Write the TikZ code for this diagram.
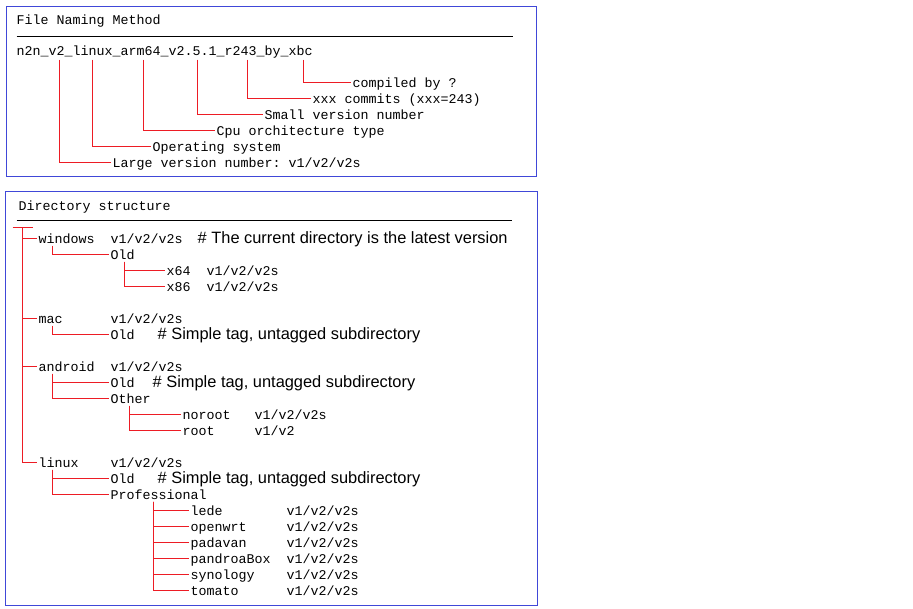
\documentclass[tikz,border=0pt]{standalone}
\usepackage{fontspec}
\setmainfont{Liberation Sans}
\setmonofont{Liberation Mono}
\definecolor{linered}{RGB}{237,28,36}
\definecolor{boxblue}{RGB}{64,72,216}
\begin{document}
\begin{tikzpicture}[x=1pt,y=-1pt]
		\tikzset{vertex/.style = {anchor=west, inner xsep=2pt, inner ysep=0pt, text height=11pt, text depth=1pt, font=\fontsize{13.33}{16}\selectfont\ttfamily}}
		\tikzset{note/.style = {anchor=west, inner xsep=2pt, inner ysep=0pt, text height=11pt, text depth=1pt, font=\fontsize{16.4}{18}\selectfont}}
		\tikzset{edge/.style = {draw=linered, line width=1pt}}
		\tikzset{frame/.style = {draw=boxblue, line width=1pt}}
		
		\useasboundingbox (0,0) rectangle (913,609);
		\begin{scope}[shift={(0.5,0.5)}]
		\draw[frame] (6,6) rectangle (536,176);
		\draw[frame] (5,191) rectangle (537,605);
		
		\node[vertex]  (1) at (  14,  19) {File Naming Method};
		\draw[line width=1pt] (16,36) -- (512,36);
		\node[vertex]  (2) at (  14,  50) {n2n\_v2\_linux\_arm64\_v2.5.1\_r243\_by\_xbc};
		\node[vertex]  (3) at ( 350,  82) {compiled by ?};
		\node[vertex]  (4) at ( 310,  98) {xxx commits (xxx=243)};
		\node[vertex]  (5) at ( 262, 114) {Small version number};
		\node[vertex]  (6) at ( 214, 130) {Cpu orchitecture type};
		\node[vertex]  (7) at ( 150, 146) {Operating system};
		\node[vertex]  (8) at ( 110, 162) {Large version number: v1/v2/v2s};
		
		\draw[edge] ([shift={( 45,3)}]2.south west) |- (8.west);
		\draw[edge] ([shift={( 78,3)}]2.south west) |- (7.west);
		\draw[edge] ([shift={(129,3)}]2.south west) |- (6.west);
		\draw[edge] ([shift={(183,3)}]2.south west) |- (5.west);
		\draw[edge] ([shift={(233,3)}]2.south west) |- (4.west);
		\draw[edge] ([shift={(289,3)}]2.south west) |- (3.west);
		
		\node[vertex] (10) at (  16, 205) {Directory structure};
		\draw[line width=1pt] (16,220) -- (511,220);
		
		\node[vertex] (11) at (  36, 238) {windows};
		\node[vertex] (12) at ( 108, 238) {v1/v2/v2s};
		\node[note]   (13) at ( 195, 238) {\# The current directory is the latest version};
		\node[vertex] (14) at ( 108, 254) {Old};
		\node[vertex] (15) at ( 164, 270) {x64};
		\node[vertex] (16) at ( 204, 270) {v1/v2/v2s};
		\node[vertex] (17) at ( 164, 286) {x86};
		\node[vertex] (18) at ( 204, 286) {v1/v2/v2s};
		
		\node[vertex] (19) at (  36, 318) {mac};
		\node[vertex] (20) at ( 108, 318) {v1/v2/v2s};
		\node[vertex] (21) at ( 108, 334) {Old};
		\node[note]   (22) at ( 155, 334) {\# Simple tag, untagged subdirectory};
		
		\node[vertex] (23) at (  36, 366) {android};
		\node[vertex] (24) at ( 108, 366) {v1/v2/v2s};
		\node[vertex] (25) at ( 108, 382) {Old};
		\node[note]   (26) at ( 150, 382) {\# Simple tag, untagged subdirectory};
		\node[vertex] (27) at ( 108, 398) {Other};
		\node[vertex] (28) at ( 180, 414) {noroot};
		\node[vertex] (29) at ( 252, 414) {v1/v2/v2s};
		\node[vertex] (30) at ( 180, 430) {root};
		\node[vertex] (31) at ( 252, 430) {v1/v2};
		
		\node[vertex] (32) at (  36, 462) {linux};
		\node[vertex] (33) at ( 108, 462) {v1/v2/v2s};
		\node[vertex] (34) at ( 108, 478) {Old};
		\node[note]   (35) at ( 155, 478) {\# Simple tag, untagged subdirectory};
		\node[vertex] (36) at ( 108, 494) {Professional};
		\node[vertex] (37) at ( 188, 510) {lede};
		\node[vertex] (38) at ( 284, 510) {v1/v2/v2s};
		\node[vertex] (39) at ( 188, 526) {openwrt};
		\node[vertex] (40) at ( 284, 526) {v1/v2/v2s};
		\node[vertex] (41) at ( 188, 542) {padavan};
		\node[vertex] (42) at ( 284, 542) {v1/v2/v2s};
		\node[vertex] (43) at ( 188, 558) {pandroaBox};
		\node[vertex] (44) at ( 284, 558) {v1/v2/v2s};
		\node[vertex] (45) at ( 188, 574) {synology};
		\node[vertex] (46) at ( 284, 574) {v1/v2/v2s};
		\node[vertex] (47) at ( 188, 590) {tomato};
		\node[vertex] (48) at ( 284, 590) {v1/v2/v2s};
		
		\coordinate (r)  at (  22, 227);
		\coordinate (r1) at (  12, 227);
		\coordinate (r2) at (  32, 227);
		
		\draw[edge] (r1) -- (r2);
		\draw[edge] (r) |- (32.west);
		\draw[edge] (r |- 11.west) -- (11.west);
		\draw[edge] (r |- 19.west) -- (19.west);
		\draw[edge] (r |- 23.west) -- (23.west);
		
		\draw[edge] ([shift={(16,1)}]11.south west) |- (14.west);
		\draw[edge] ([shift={(16,1)}]14.south west) |- (15.west);
		\draw[edge] ([shift={(16,1)}]14.south west) |- (17.west);
		\draw[edge] ([shift={(16,1)}]19.south west) |- (21.west);
		\draw[edge] ([shift={(16,1)}]23.south west) |- (25.west);
		\draw[edge] ([shift={(16,1)}]23.south west) |- (27.west);
		\draw[edge] ([shift={(21,1)}]27.south west) |- (28.west);
		\draw[edge] ([shift={(21,1)}]27.south west) |- (30.west);
		\draw[edge] ([shift={(16,1)}]32.south west) |- (34.west);
		\draw[edge] ([shift={(16,1)}]32.south west) |- (36.west);
		\draw[edge] ([shift={(45,1)}]36.south west) |- (37.west);
		\draw[edge] ([shift={(45,1)}]36.south west) |- (39.west);
		\draw[edge] ([shift={(45,1)}]36.south west) |- (41.west);
		\draw[edge] ([shift={(45,1)}]36.south west) |- (43.west);
		\draw[edge] ([shift={(45,1)}]36.south west) |- (45.west);
		\draw[edge] ([shift={(45,1)}]36.south west) |- (47.west);
		\end{scope}
\end{tikzpicture}
\end{document}
